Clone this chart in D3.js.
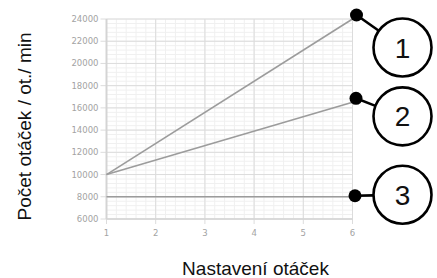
<!DOCTYPE html>
<html>
<head>
<meta charset="utf-8">
<script src="https://cdn.jsdelivr.net/npm/d3@7/dist/d3.min.js"></script>
<style>
  body { margin: 0; background: #fff; }
  svg { display: block; }
  .tick-label { font-family: "DejaVu Sans", sans-serif; font-size: 8.5px; fill: #a3a3a3; }
  .title { font-family: "Liberation Sans", Arial, sans-serif; font-size: 19px; fill: #111; }
</style>
</head>
<body>
<div id="chart"></div>
<script>
// data
var settings = [1, 2, 3, 4, 5, 6];
var yTicks = [6000, 8000, 10000, 12000, 14000, 16000, 18000, 20000, 22000, 24000];
var seriesX = [1, 6];
var series1 = [10000, 24000];
var series2 = [10000, 16500];
var series3 = [8000, 8000];
var seriesLabels = ["1", "2", "3"];
var yTitle = "Počet otáček / ot./ min";
var xTitle = "Nastavení otáček";

var W = 437, H = 278;
var plot = { left: 106.5, right: 352.5, top: 19, bottom: 219 };

var svg = d3.select("#chart").append("svg")
    .attr("width", W)
    .attr("height", H);

var x = d3.scaleLinear().domain([1, 6]).range([plot.left, plot.right]);
var y = d3.scaleLinear().domain([6000, 24000]).range([plot.bottom, plot.top]);

// minor grid (excel style, major / 5)
var minorX = d3.range(1, 6.001, 0.2);
var minorY = d3.range(6000, 24001, 400);

svg.append("g").selectAll("line.mx")
    .data(minorX).enter().append("line")
    .attr("x1", function(d){ return x(d) }).attr("x2", function(d){ return x(d) })
    .attr("y1", plot.top).attr("y2", plot.bottom)
    .attr("stroke", "#f0f0f0").attr("stroke-width", 1);

svg.append("g").selectAll("line.my")
    .data(minorY).enter().append("line")
    .attr("x1", plot.left).attr("x2", plot.right)
    .attr("y1", function(d){ return y(d) }).attr("y2", function(d){ return y(d) })
    .attr("stroke", "#f0f0f0").attr("stroke-width", 1);

// major grid
svg.append("g").selectAll("line")
    .data(settings).enter().append("line")
    .attr("x1", function(d){ return x(d) }).attr("x2", function(d){ return x(d) })
    .attr("y1", plot.top).attr("y2", plot.bottom + 5)
    .attr("stroke", "#dcdcdc").attr("stroke-width", 1);

svg.append("g").selectAll("line")
    .data(yTicks).enter().append("line")
    .attr("x1", plot.left - 6).attr("x2", plot.right)
    .attr("y1", function(d){ return y(d) }).attr("y2", function(d){ return y(d) })
    .attr("stroke", "#dcdcdc").attr("stroke-width", 1);

// axes lines
svg.append("line")
    .attr("x1", plot.left).attr("x2", plot.left)
    .attr("y1", plot.top).attr("y2", plot.bottom)
    .attr("stroke", "#d4d4d4").attr("stroke-width", 2);

svg.append("line")
    .attr("x1", plot.left).attr("x2", plot.right)
    .attr("y1", plot.bottom).attr("y2", plot.bottom)
    .attr("stroke", "#d4d4d4").attr("stroke-width", 1.5);

// tick labels
svg.append("g").selectAll("text")
    .data(yTicks).enter().append("text")
    .attr("class", "tick-label")
    .attr("x", plot.left - 8)
    .attr("y", function(d){ return y(d) + 3 })
    .attr("text-anchor", "end")
    .text(function(d){ return d });

svg.append("g").selectAll("text")
    .data(settings).enter().append("text")
    .attr("class", "tick-label")
    .attr("x", function(d){ return x(d) })
    .attr("y", plot.bottom + 17)
    .attr("text-anchor", "middle")
    .text(function(d){ return d });

// series lines
var all = [series1, series2, series3];
var line = d3.line()
    .x(function(d, i){ return x(seriesX[i]) })
    .y(function(d){ return y(d) });

svg.append("g").selectAll("path")
    .data(all).enter().append("path")
    .attr("d", function(d){ return line(d) })
    .attr("fill", "none")
    .attr("stroke", "#9c9c9c")
    .attr("stroke-width", 1.6);

// callouts: dot at series end, numbered circle to the right
var dotShift = [[4, -4], [3.5, -4], [2.5, -1]];
var circleDy = [28.5, 14, -2];
var R = 29;

all.forEach(function(s, i){
    var px = x(seriesX[1]) + dotShift[i][0];
    var py = y(s[1]) + dotShift[i][1];
    var cx = x(seriesX[1]) + 50;
    var cy = y(s[1]) + circleDy[i];
    var a = Math.atan2(py - cy, px - cx);

    svg.append("line")
        .attr("x1", px).attr("y1", py)
        .attr("x2", cx + R * Math.cos(a)).attr("y2", cy + R * Math.sin(a))
        .attr("stroke", "#000").attr("stroke-width", 2.6);

    svg.append("circle")
        .attr("cx", px).attr("cy", py).attr("r", 6.5)
        .attr("fill", "#000");

    svg.append("circle")
        .attr("cx", cx).attr("cy", cy).attr("r", R)
        .attr("fill", "#fff")
        .attr("stroke", "#000").attr("stroke-width", 2.6);

    svg.append("text")
        .attr("x", cx).attr("y", cy + 10)
        .attr("text-anchor", "middle")
        .style("font-family", "Liberation Sans, Arial, sans-serif")
        .style("font-size", "28px")
        .attr("fill", "#111")
        .text(seriesLabels[i]);
});

// axis titles
svg.append("text")
    .attr("class", "title")
    .attr("transform", "translate(31,126.5) rotate(-90)")
    .attr("text-anchor", "middle")
    .text(yTitle);

svg.append("text")
    .attr("class", "title")
    .attr("x", 255.5)
    .attr("y", 275)
    .attr("text-anchor", "middle")
    .text(xTitle);
</script>
</body>
</html>
